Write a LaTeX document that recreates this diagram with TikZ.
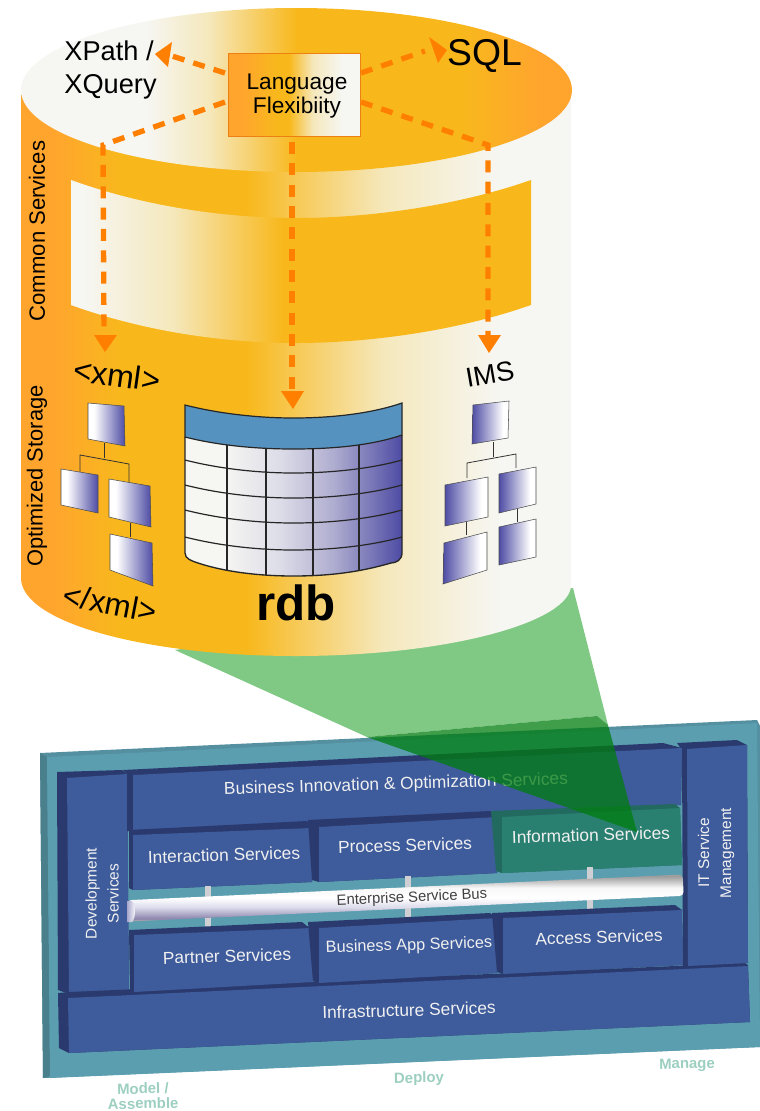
\documentclass[tikz,border=0pt]{standalone}
\usepackage{fontspec}
\setmainfont{Liberation Sans}
\usetikzlibrary{calc}
\definecolor{orA}{HTML}{FFA52E}
\definecolor{orB}{HTML}{F8B81C}
\definecolor{orC}{HTML}{F5E8BC}
\definecolor{orD}{HTML}{F6F6F2}
\definecolor{dashor}{HTML}{FF8000}
\definecolor{purp}{HTML}{4E4CA4}
\definecolor{tabA}{HTML}{DCDCE8}
\definecolor{tabB}{HTML}{B0AED0}
\definecolor{hdr}{HTML}{5592C0}
\definecolor{panelc}{HTML}{5A9EB0}
\definecolor{paneld}{HTML}{4A7F8C}
\definecolor{panelt}{HTML}{5490A0}
\definecolor{blockf}{HTML}{3E5B9B}
\definecolor{blockd}{HTML}{2A3A6E}
\definecolor{infof}{HTML}{2A8070}
\definecolor{infod}{HTML}{226A60}
\definecolor{lblc}{HTML}{9CCFC0}
\definecolor{lightg}{HTML}{80C984}
\definecolor{darkg}{HTML}{007D0F}
\definecolor{barc}{HTML}{CFCFD4}
\definecolor{capc}{HTML}{A8A6CC}
\pgfdeclarehorizontalshading{cylbody}{100bp}{color(0bp)=(orA);color(28bp)=(orA);color(34bp)=(orB);color(45.5bp)=(orB);color(58bp)=(orC);color(68.5bp)=(orD);color(100bp)=(orD)}
\pgfdeclarehorizontalshading{cyltop}{100bp}{color(0bp)=(orD);color(36.4bp)=(orD);color(42bp)=(orC);color(50bp)=(orB);color(65bp)=(orB);color(72bp)=(orA);color(100bp)=(orA)}
\pgfdeclarehorizontalshading{cylband}{100bp}{color(0bp)=(orD);color(26.5bp)=(orD);color(36bp)=(orC);color(48bp)=(orB);color(100bp)=(orB)}
\pgfdeclarehorizontalshading{langshade}{100bp}{color(0bp)=(orA);color(30bp)=(orA);color(43bp)=(orB);color(48bp)=(orB);color(57bp)=(orC);color(68bp)=(orD);color(100bp)=(orD)}
\pgfdeclarehorizontalshading{tableshade}{100bp}{color(0bp)=(orD);color(34bp)=(orD);color(47bp)=(tabA);color(59bp)=(tabB);color(75bp)=(purp);color(100bp)=(purp)}
\pgfdeclarehorizontalshading{treeW}{100bp}{color(0bp)=(white);color(33bp)=(white);color(75bp)=(purp);color(100bp)=(purp)}
\pgfdeclarehorizontalshading{treeP}{100bp}{color(0bp)=(purp);color(25bp)=(purp);color(67bp)=(white);color(100bp)=(white)}
\pgfdeclareverticalshading{busshade}{100bp}{rgb(0bp)=(.72,.70,.68);rgb(25.5bp)=(.72,.70,.68);rgb(28bp)=(.55,.52,.68);rgb(40bp)=(.86,.86,.92);rgb(50bp)=(1,1,1);rgb(61bp)=(.97,.97,.97);rgb(70bp)=(.70,.70,.70);rgb(73bp)=(.62,.62,.62);rgb(100bp)=(.72,.72,.70)}
\tikzset{
 dashline/.style={draw=dashor,line width=4pt,dash pattern=on 9pt off 7pt},
 headtri/.style={fill=dashor},
 darkface/.style={fill=blockd},
 frontface/.style={fill=blockf},
 svc/.style={text=white!94!black,font=\fontsize{13}{15}\selectfont,align=center,inner sep=0pt},
 big/.style={text=black,inner sep=0pt,align=left},
 lbl/.style={text=lblc,font=\fontsize{11.2}{11.2}\selectfont\bfseries,align=center,inner sep=0pt},
 treeline/.style={draw=black!80,line width=.6pt},
 tablelines/.style={draw=black!85,line width=.9pt},
 barline/.style={draw=barc,line width=4pt},
}
\begin{document}
\begin{tikzpicture}[x=.75pt,y=-.75pt]
\useasboundingbox (0,0) rectangle (760,1111);
% panel
\fill[panelt] (40,753) -- (757,720) -- (760,726) -- (760,1047) -- (43,1078) -- cycle;
\fill[paneld] (40,753) -- (47,757) -- (50,1076) -- (43,1078) -- cycle;
\fill[panelc] (47,757) -- (757,723) -- (760,1047) -- (50,1078) -- cycle;
% dev
\fill[darkface] (57,772) -- (122,770) -- (127,774) -- (129,990) -- (69,994) -- (58,990) -- cycle;
\fill[frontface] (67,778) -- (127,774) -- (129,990) -- (69,994) -- cycle;
% infra
\fill[darkface] (58,993) -- (69,992) -- (745,963) -- (748,965) -- (750,1022) -- (69,1053) -- (59,1048) -- cycle;
\fill[frontface] (68,998) -- (748,966) -- (750,1022) -- (69,1053) -- cycle;
% IT
\fill[darkface] (677,743) -- (737,740) -- (747,745) -- (748,963) -- (683,967) -- (682,750) -- cycle;
\fill[frontface] (687,749) -- (747,745) -- (748,963) -- (688,966) -- cycle;
% BIO
\fill[darkface] (123,770) -- (663,743) -- (682,748) -- (681,805) -- (133,831) -- (127,831) -- (127,774) -- cycle;
\fill[frontface] (133,775) -- (682,748) -- (681,805) -- (133,830) -- cycle;
% interaction
\fill[darkface] (129,830) -- (307,821) -- (312,828) -- (312,882) -- (133,890) -- (129,888) -- cycle;
\fill[frontface] (133,835) -- (312,828) -- (312,882) -- (133,890) -- cycle;
% process
\fill[darkface] (308,820) -- (490,811) -- (497,817) -- (497,873) -- (319,882) -- (312,880) -- cycle;
\fill[frontface] (319,827) -- (497,817) -- (497,873) -- (319,882) -- cycle;
% information
\fill[infod] (491,811) -- (675,804) -- (680,808) -- (682,865) -- (502,873) -- (496,871) -- cycle;
\fill[infof] (502,817) -- (680,808) -- (682,865) -- (502,873) -- cycle;
% bars
\draw[barline] (208,886) -- (208,931);
\draw[barline] (408,876) -- (408,921);
\draw[barline] (590,867) -- (590,912);
% partner
\fill[darkface] (129,930) -- (302,922) -- (307,926) -- (312,928) -- (313,982) -- (134,992) -- (130,990) -- cycle;
\fill[frontface] (134,935) -- (312,928) -- (313,982) -- (134,992) -- cycle;
% business app
\fill[darkface] (308,922) -- (490,913) -- (497,918) -- (497,973) -- (319,983) -- (313,981) -- cycle;
\fill[frontface] (319,928) -- (497,918) -- (497,973) -- (319,983) -- cycle;
% access
\fill[darkface] (492,913) -- (675,905) -- (682,910) -- (683,965) -- (503,974) -- (497,972) -- cycle;
\fill[frontface] (503,918) -- (682,910) -- (683,965) -- (503,974) -- cycle;
% bus
\node[shade,shading=busshade,rounded corners=3pt,rotate=2.65,minimum width=417pt,minimum height=16pt,inner sep=0pt] (bus) at (405.5,898) {};
\shade[left color=capc,right color=white] (127,901) -- (132,901) .. controls (136,905) and (136,918) .. (132,922) -- (127,922) -- cycle;
% panel texts
\node[svc,rotate=1.7] (tbio) at (396,785) {Business Innovation \& Optimization Services};
\node[svc,rotate=1.7] (tint) at (224,855) {Interaction Services};
\node[svc,rotate=1.7] (tpro) at (405,845) {Process Services};
\node[svc,rotate=1.7] (tinf) at (591,835) {Information Services};
\node[svc,rotate=2.6,text=black!75,font=\fontsize{11.1}{13}\selectfont] (tbus) at (412,898) {Enterprise Service Bus};
\node[svc,rotate=1.7] (tpar) at (227,956) {Partner Services};
\node[svc,rotate=1.7,font=\fontsize{12.2}{15}\selectfont] (tbap) at (409,946) {Business App Services};
\node[svc,rotate=1.7] (tacc) at (599,937) {Access Services};
\node[svc,rotate=1.7] (tinfra) at (409,1010) {Infrastructure Services};
\node[svc,rotate=90,font=\fontsize{11.6}{16.5}\selectfont] (tdev) at (102,893.5) {Development\\Services};
\node[svc,rotate=90,font=\fontsize{11.6}{16.5}\selectfont] (tit) at (716,853) {IT Service\\Management};
\node[lbl,rotate=1] (tmod) at (143,1096) {Model /\\Assemble};
\node[lbl,rotate=1] (tdep) at (419,1079) {Deploy};
\node[lbl,rotate=1] (tman) at (687,1065) {Manage};
% green beam
\fill[lightg] (175,650) -- (573,588) -- (608,725) -- (597,716) -- (367,737) -- cycle;
\fill[darkg,fill opacity=.75] (367,737) -- (597,716) -- (608,725) -- (637,832) -- cycle;
% cylinder
\shade[shading=cylbody] (21,90) -- (21,578) .. controls (21,622) and (144,656) .. (296,656) .. controls (448,656) and (571,622) .. (571,585) -- (571,90) -- cycle;
\shade[shading=cylband] (71,180) .. controls (140,205) and (220,218) .. (296,218) .. controls (372,218) and (460,205) .. (531,180) -- (531,305) .. controls (460,330) and (372,343) .. (296,343) .. controls (220,343) and (140,330) .. (71,305) -- cycle;
\shade[shading=cyltop] (21,90) .. controls (21,45) and (144,8) .. (296,8) .. controls (448,8) and (572,45) .. (572,90) .. controls (572,135) and (448,172) .. (296,172) .. controls (144,172) and (21,135) .. (21,90) -- cycle;
% language node
\node[shade,shading=langshade,draw=orange!70!brown,line width=.7pt,minimum width=99pt,minimum height=62pt,inner sep=0pt] (lang) at (294.5,95) {};
\node[font=\fontsize{17}{18}\selectfont,align=center,inner sep=0pt] (langt) at (297,96) {Language\\Flexibiity};
% connector ends
\coordinate (xpa) at (225,73); \coordinate (xpb) at (172,56);
\coordinate (sqa) at (361,73); \coordinate (sqb) at (425,51);
\coordinate (lla) at (225,102); \coordinate (llb) at (103,145); \coordinate (llc) at (104,335);
\coordinate (rra) at (361,102); \coordinate (rrb) at (488,145); \coordinate (rrc) at (488,335);
\coordinate (cca) at (292,142); \coordinate (ccb) at (292,392);
\draw[dashline] (xpa) -- (xpb);
\draw[dashline] (sqa) -- (sqb);
\draw[dashline] (lla) -- (llb) -- (llc);
\draw[dashline] (rra) -- (rrb) -- (rrc);
\draw[dashline] (cca) -- (ccb);
\fill[headtri] (172,42) -- (155,54) -- (168,67) -- cycle;
\fill[headtri] (429,37) -- (447,50) -- (438,63) -- cycle;
\fill[headtri] (94,335) -- (117,335) -- (105,352) -- cycle;
\fill[headtri] (281,391) -- (304,391) -- (293,409) -- cycle;
\fill[headtri] (478,335) -- (501,335) -- (489,353) -- cycle;
% cylinder texts
\node[big,font=\fontsize{20.4}{25}\selectfont] (txp) at (110.5,70) {XPath /\\XQuery};
\node[big,font=\fontsize{28}{30}\selectfont] (tsql) at (484.5,56) {SQL};
\node[big,rotate=90,font=\fontsize{16.6}{18}\selectfont] (tcs) at (37,231) {Common Services};
\node[big,rotate=90,font=\fontsize{16.4}{18}\selectfont] (tos) at (37,476) {Optimized Storage};
\node[big,rotate=-8,font=\fontsize{24}{26}\selectfont] (txo) at (117,375) {<xml>};
\node[big,rotate=-11,font=\fontsize{23.5}{26}\selectfont] (txc) at (110,603) {</xml>};
\node[big,rotate=10,font=\fontsize{20.5}{22}\selectfont] (tims) at (490,374) {IMS};
\node[big,font=\fontsize{37}{40}\selectfont\bfseries] (trdb) at (296,603) {rdb};
% rdb table
\shade[shading=tableshade] (185,437) .. controls (220,446) and (260,449) .. (293,449) .. controls (330,449) and (370,446) .. (402,435) -- (402,553) .. controls (402,560) and (396,563) .. (391,563) .. controls (360,572) and (330,576) .. (293,576) .. controls (260,576) and (225,572) .. (198,563) .. controls (192,561) and (185,559) .. (185,553) -- cycle;
\foreach \dy in {23,48,73,100}{
  \draw[tablelines] (185,437+\dy) .. controls (220,446+\dy) and (260,450+\dy) .. (293,450+\dy) .. controls (330,450+\dy) and (370,446+\dy) .. (402,437+\dy);
}
\draw[tablelines] (227,445) -- (227,570);
\draw[tablelines] (266,449) -- (266,575);
\draw[tablelines] (313,449) -- (313,575);
\draw[tablelines] (359,445) -- (359,570);
\draw[draw=black!85,line width=1pt] (185,437) -- (185,553) .. controls (185,559) and (192,561) .. (198,563) .. controls (225,572) and (260,576) .. (293,576) .. controls (330,576) and (360,572) .. (391,563) .. controls (396,563) and (402,560) .. (402,553) -- (402,435);
\filldraw[fill=hdr,draw=black!85,line width=.9pt] (185,405) .. controls (220,414) and (260,418) .. (293,418) .. controls (330,418) and (370,414) .. (402,403) -- (402,435) .. controls (370,446) and (330,449) .. (293,449) .. controls (260,449) and (220,446) .. (185,437) -- cycle;
% xml tree
\draw[treeline] (104,443) -- (104,458);
\draw[treeline] (80,472) -- (80,455) -- (129,464) -- (129,482);
\draw[treeline] (130,523) -- (130,537);
\shade[shading=treeW,draw=black!70,line width=.4pt] (88,403) -- (124,406) -- (125,446) -- (88,439) -- cycle;
\shade[shading=treeW,draw=black!70,line width=.4pt] (61,469) -- (98,475) -- (98,513) -- (61,505) -- cycle;
\shade[shading=treeW,draw=black!70,line width=.4pt] (109,479) -- (150,486) -- (151,527) -- (109,517) -- cycle;
\shade[shading=treeW,draw=black!70,line width=.4pt] (110,534) -- (152,543) -- (153,586) -- (110,570) -- cycle;
% ims tree
\draw[treeline] (493,442) -- (493,457);
\draw[treeline] (467,478) -- (467,463) -- (516,454) -- (516,468);
\draw[treeline] (466,522) -- (466,535);
\draw[treeline] (517,509) -- (517,522);
\shade[shading=treeP,draw=black!70,line width=.4pt] (473,405) -- (509,401) -- (508,438) -- (472,444) -- cycle;
\shade[shading=treeP,draw=black!70,line width=.4pt] (445,485) -- (488,477) -- (488,517) -- (445,526) -- cycle;
\shade[shading=treeP,draw=black!70,line width=.4pt] (499,474) -- (536,467) -- (536,504) -- (499,513) -- cycle;
\shade[shading=treeP,draw=black!70,line width=.4pt] (444,543) -- (487,532) -- (487,570) -- (443,584) -- cycle;
\shade[shading=treeP,draw=black!70,line width=.4pt] (499,527) -- (536,519) -- (536,557) -- (499,565) -- cycle;
\end{tikzpicture}
\end{document}
